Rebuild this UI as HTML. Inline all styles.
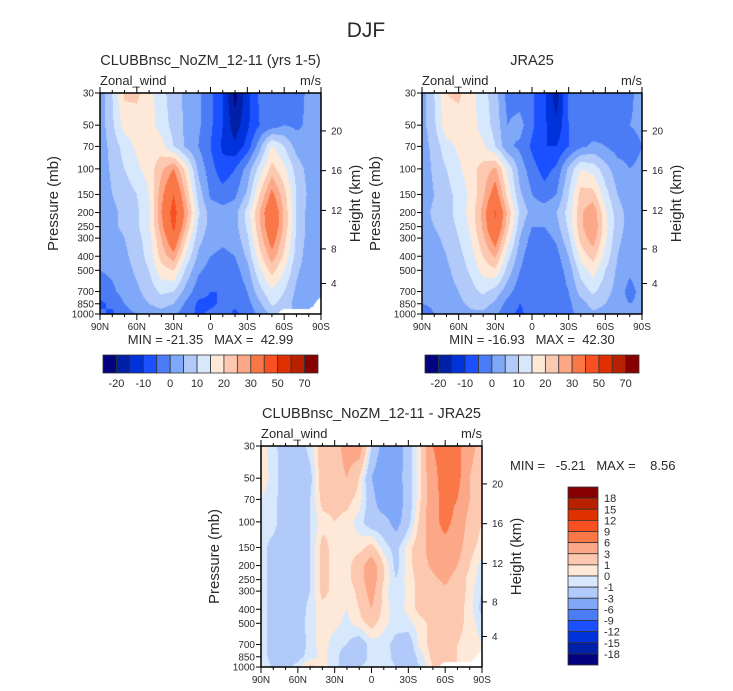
<!DOCTYPE html>
<html><head><meta charset="utf-8"><style>
body{margin:0;background:#fff;}
#wrap{position:relative;width:733px;height:691px;overflow:hidden;font-family:"Liberation Sans",sans-serif;}
canvas{position:absolute;}
svg{position:absolute;left:0;top:0;}
text{font-family:"Liberation Sans",sans-serif;fill:#2a2a2a;white-space:pre;}
</style></head><body>
<div id="wrap">
<canvas id="c1"></canvas>
<canvas id="c2"></canvas>
<canvas id="c3"></canvas>
<svg id="ov" width="733" height="691"></svg>
</div>
<script>
const lats=[90,80,70,60,50,40,30,20,10,0,-10,-20,-30,-40,-50,-60,-70,-80,-90];
const levels=[30,50,70,100,150,200,250,300,400,500,700,850,1000];
const N=NaN;
const field1=[
[2,10,21,21,17,12,7,4,1,-4,-10,-22,-12,-4,-3,-2,-2,1,2],
[2,9,17,18,17,13,8,4,1,-4,-10,-18,-11,-5,-3,0,-1,1,2],
[2,7,12,16,18,17,10,4,0,-5,-11,-14,-8,3,16,10,3,0,1],
[2,6,10,14,17,24,30,18,4,-3,-8,-5,2,12,22,16,8,3,2],
[2,5,7,10,15,28,40,24,8,-1,-3,-1,6,20,32,22,10,4,2],
[2,4,6,9,14,30,44,28,11,3,2,3,12,25,38,24,10,3,2],
[2,4,6,9,14,28,42,25,9,3,2,3,11,24,37,24,10,3,2],
[2,3,5,8,13,25,37,20,7,2,1,2,9,22,34,22,9,3,2],
[1,2,4,7,12,22,28,14,4,0,-1,0,6,18,28,19,8,2,2],
[0,1,3,6,10,18,20,9,1,-2,-3,-2,3,14,22,15,6,2,2],
[-3,-1,2,4,7,11,10,3,-3,-5,-5,-4,0,8,14,10,4,1,2],
[-6,-4,0,3,5,7,5,-1,-6,-6,-4,-4,-2,4,11,8,3,1,N],
[-4,-6,-2,0,2,3,1,-3,-6,-4,-3,-6,-3,1,6,N,N,N,N]];
const field2=[
[3,10,20,21,17,12,7,-2,-3,-4,-9,-18,-4,-3,-3,-3,-2,-1,2],
[3,9,18,18,17,13,8,0,2,-4,-9,-14,-5,-3,-3,-2,-1,0,1],
[2,7,13,16,17,16,10,1,-1,-6,-10,-10,-5,-1,1,0,-2,-2,0],
[2,6,10,14,18,22,26,14,3,-3,-7,-4,6,15,13,7,2,0,1],
[2,5,8,12,16,24,34,18,6,0,-3,0,10,22,22,12,5,2,1],
[3,6,8,12,17,27,41,24,9,3,3,5,12,24,29,16,7,3,2],
[3,5,7,11,16,26,39,22,7,0,0,3,11,24,30,17,7,3,2],
[2,4,6,10,15,24,34,18,5,-2,-2,1,9,22,28,16,6,3,2],
[2,3,5,8,13,20,26,12,2,-4,-4,-2,5,17,22,13,5,2,2],
[1,2,4,7,11,17,19,8,0,-4,-5,-3,2,12,17,10,4,1,3],
[1,2,3,5,8,11,8,2,-3,-4,-4,-3,0,7,11,7,3,-2,2],
[0,1,2,4,6,7,4,-2,-5,-4,-3,-3,-1,3,7,5,2,0,1],
[-3,0,1,2,4,4,1,-4,-6,-3,-2,-3,-1,1,4,3,1,0,1]];
const field3=[
[0.5,-0.5,-2,-2,-0.5,2,2,4,4.5,-1,-4,-4.5,-2,1,6,7.5,7,4,2],
[0.5,-0.3,-2,-2,-1.5,2,2,3,1,-3,-5,-4,-2,1,5,7.5,7,3,1],
[0,-0.5,-2,-2,-1,1.5,1.5,1.5,0.5,-2,-5,-4.5,-2,1,5,7,6,3,1],
[-0.5,-0.5,-2,-2,-1,0.5,1,0.5,-0.5,-2,-2,-4,-1.5,1.5,5,7,5,2,1],
[-0.5,-1.5,-2,-2,-1,1.5,0.5,0.5,0.5,1.5,-0.5,-1.5,0.5,2,4.5,5,4,1.5,0.5],
[-0.5,-1.5,-2,-2,-1,1.5,0.5,0.5,2,4.5,1,-1.5,0.5,2,3.5,4.5,3,1,-0.5],
[-0.5,-1.5,-2,-2,-1,1.5,0.5,0.5,2,4.5,1,-1,0.5,1.5,2.5,3.5,2,0.5,-0.5],
[-0.5,-1.5,-2,-2,-1,1.5,0.5,0,1.5,4,0.5,-1,0.3,1.5,2,2.5,2,0.5,-1],
[-0.5,-1.5,-2,-2,-0.5,0.5,0.3,0,1,3,0.5,-0.5,0.3,1.5,2,2,1.5,0.5,-1.5],
[-0.5,-1.5,-2,-2,-0.3,0.3,0.3,-0.3,0.5,1.5,0.3,-0.5,-0.3,0.5,1.5,2,1.5,0.5,-0.5],
[-0.5,-1.5,-2,-2,-0.5,0.5,-0.5,-1,-2,-0.5,-0.5,-1.5,-2,0.5,1.5,1.5,1,0.5,0],
[-0.5,-1.5,-2,-1.5,-0.5,0.3,-0.5,-2,-2,-0.5,-0.3,-1.5,-2,-0.5,1.5,1.5,1,0.5,N],
[0.5,-1.5,-1.5,-0.5,1.5,0.5,-0.5,-2,-1,-0.5,-0.3,-1,-1.5,-1,1,N,N,N,N]];
const cnLevels1=[-20,-15,-10,-5,0,5,10,15,20,25,30,40,50,60,70];
const cnLevels3=[-18,-15,-12,-9,-6,-3,-1,0,1,3,6,9,12,15,18];
const cbLabels1=["-20","-10","0","10","20","30","50","70"];
const cbLabels3=["18","15","12","9","6","3","1","0","-1","-3","-6","-9","-12","-15","-18"];
const pTicks=[30,50,70,100,150,200,250,300,400,500,700,850,1000];
const latTicks=[90,60,30,0,-30,-60,-90];
const latLabels=["90N","60N","30N","0","30S","60S","90S"];
const zTicks=[4,8,12,16,20];
const colors=["#04037f","#0020a8","#0032dc","#1a50ff","#4b7cf5","#80a8f8","#b2cafa","#d8e8fc","#fee8d8","#fdc8b0","#fca888","#fa7848","#f85020","#e03000","#b82000","#860000"];

const panels=[
 {cv:'c1',x:100,y:93,w:221,h:221,f:field1,lv:cnLevels1,title:"CLUBBnsc_NoZM_12-11 (yrs 1-5)",mm:"MIN = -21.35   MAX =  42.99",key:'model'},
 {cv:'c2',x:422,y:93,w:220,h:221,f:field2,lv:cnLevels1,title:"JRA25",mm:"MIN = -16.93   MAX =  42.30",key:'jra25'},
 {cv:'c3',x:261,y:446,w:221,h:221,f:field3,lv:cnLevels3,title:"CLUBBnsc_NoZM_12-11 - JRA25",mm:null,key:'diff'}];
const L0=Math.log(1000),L1=Math.log(30);
function xScale(P,lat){return P.x+(90-lat)/180*P.w;}
function yScale(P,p){return P.y+P.h-(L0-Math.log(p))/(L0-L1)*P.h;}
function zToP(z){z*=1000;if(z<=11000)return 1013.25*Math.pow(1-2.25577e-5*z,5.25588);return 226.32*Math.exp(-(z-11000)/6341.6);}
function hex(c){return [parseInt(c.substr(1,2),16),parseInt(c.substr(3,2),16),parseInt(c.substr(5,2),16)];}
const rgb=colors.map(hex);
function interp(f,lat,lp){
 let ci=(90-lat)/10;ci=Math.max(0,Math.min(17.9999,ci));const c0=Math.floor(ci),tc=ci-c0;
 const ll=levels.map(Math.log);let r=0;while(r<ll.length-2&&lp>ll[r+1])r++;
 let tr=(lp-ll[r])/(ll[r+1]-ll[r]);tr=Math.max(0,Math.min(1,tr));
 const pts=[[f[r][c0],(1-tc)*(1-tr)],[f[r][c0+1],tc*(1-tr)],[f[r+1][c0],(1-tc)*tr],[f[r+1][c0+1],tc*tr]];
 let s=0,w=0,nw=0;for(const [v,wt] of pts){if(isNaN(v))nw+=wt;else{s+=v*wt;w+=wt;}}
 if(nw>0.5||w===0)return NaN;return s/w;}
function idx(lv,v){let i=0;while(i<lv.length&&v>=lv[i])i++;return i;}
for(const P of panels){
 const cv=document.getElementById(P.cv);cv.width=P.w;cv.height=P.h;cv.style.left=P.x+'px';cv.style.top=P.y+'px';
 const ctx=cv.getContext('2d');const im=ctx.createImageData(P.w,P.h);
 for(let py=0;py<P.h;py++){const lp=L0-(P.h-py-0.5)/P.h*(L0-L1);
  for(let px=0;px<P.w;px++){const lat=90-(px+0.5)/P.w*180;const v=interp(P.f,lat,lp);
   const k=(py*P.w+px)*4;let c=[255,255,255];if(!isNaN(v))c=rgb[idx(P.lv,v)];
   im.data[k]=c[0];im.data[k+1]=c[1];im.data[k+2]=c[2];im.data[k+3]=255;}}
 ctx.putImageData(im,0,0);}

const svg=document.getElementById('ov');const NS="http://www.w3.org/2000/svg";
function mk(tag,attrs,txt){const e=document.createElementNS(NS,tag);for(const k in attrs)e.setAttribute(k,attrs[k]);if(txt!==undefined)e.textContent=txt;svg.appendChild(e);return e;}
let e=mk('text',{x:366,y:37,'font-size':21,'text-anchor':'middle',fill:'#333'},'DJF');


for(const P of panels){
 const x0=P.x,x1=P.x+P.w,y0=P.y,y1=P.y+P.h;
 e=mk('text',{x:(x0+x1)/2,y:y0-28,'font-size':14.5,'text-anchor':'middle'},P.title);
 
 
 e=mk('text',{x:x0,y:y0-8,'font-size':13},'Zonal_wind');
 
 
 e=mk('text',{x:x1,y:y0-8,'font-size':13,'text-anchor':'end'},'m/s');
 
 
 e=mk('rect',{x:x0,y:y0,width:P.w,height:P.h,fill:'none',stroke:'#000','stroke-width':1.5});
 
 
 for(let lat=90;lat>=-90;lat-=10){const x=xScale(P,lat);const maj=(lat%30===0);const L=maj?6:3;
  e=mk('line',{x1:x,x2:x,y1:y0,y2:y0-L,stroke:'#000','stroke-width':1});
  
  
  e=mk('line',{x1:x,x2:x,y1:y1,y2:y1+L,stroke:'#000','stroke-width':1});
  
  }
 latTicks.forEach((lat,i)=>{e=mk('text',{x:xScale(P,lat),y:y1+16,'font-size':10,'text-anchor':'middle'},latLabels[i]);
  
  });
 pTicks.forEach(p=>{const y=yScale(P,p);
  e=mk('line',{x1:x0-5,x2:x0,y1:y,y2:y,stroke:'#000','stroke-width':1});
  
  
  e=mk('text',{x:x0-6,y:y+3.5,'font-size':10,'text-anchor':'end'},String(p));
  
  });
 zTicks.forEach(z=>{const y=yScale(P,zToP(z));
  e=mk('line',{x1:x1,x2:x1+5,y1:y,y2:y,stroke:'#000','stroke-width':1});
  
  
  e=mk('text',{x:x1+10,y:y+3.5,'font-size':10},String(z));
  
  });
 const cy=(y0+y1)/2;
 e=mk('text',{x:x0-42,y:cy,'font-size':15,'text-anchor':'middle',transform:`rotate(-90 ${x0-42} ${cy})`,fill:'#333'},'Pressure (mb)');
 
 
 e=mk('text',{x:x1+39,y:cy,'font-size':15,'text-anchor':'middle',transform:`rotate(-90 ${x1+39} ${cy})`,fill:'#333'},'Height (km)');
 
 
 if(P.mm){
  e=mk('text',{x:(x0+x1)/2,y:y1+30,'font-size':13,'text-anchor':'middle'},P.mm);
  
  
  const bx=x0+3,bw=P.w-6,by=355,bh=18,n=colors.length,cw=bw/n;
  colors.forEach((c,i)=>{e=mk('rect',{x:bx+i*cw,y:by,width:cw,height:bh,fill:c,stroke:'#333','stroke-width':0.8});
   
   });
  cbLabels1.forEach((t,i)=>{e=mk('text',{x:bx+(1+2*i)*cw,y:by+bh+14,'font-size':11,'text-anchor':'middle'},t);
   
   });
 }
}
e=mk('text',{x:510,y:470,'font-size':13},'MIN =   -5.21   MAX =    8.56');


{const bx=568,by=487,bw=30,bh=178,n=colors.length,ch=bh/n;
 for(let i=0;i<n;i++){e=mk('rect',{x:bx,y:by+i*ch,width:bw,height:ch,fill:colors[n-1-i],stroke:'#333','stroke-width':0.8});
  
  }
 cbLabels3.forEach((t,i)=>{e=mk('text',{x:604,y:by+(i+1)*ch+4,'font-size':11},t);
  
  });
}
</script>
</body></html>
